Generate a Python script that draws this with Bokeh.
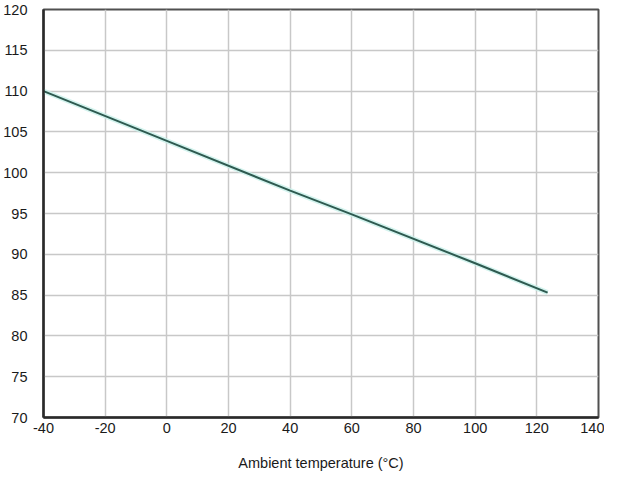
from bokeh.plotting import figure
from bokeh.models import Range1d, FixedTicker
from bokeh.embed import file_html
from bokeh.resources import INLINE

temp_c = [-40, 0, 40, 60, 100, 123.5]
value = [110.0, 103.9, 97.8, 94.9, 88.9, 85.3]
x_ticks = [-40, -20, 0, 20, 40, 60, 80, 100, 120, 140]
y_ticks = [70, 75, 80, 85, 90, 95, 100, 105, 110, 115, 120]

p = figure(width=604, height=474, output_backend="svg", toolbar_location=None,
           x_range=Range1d(-40, 140), y_range=Range1d(70, 120),
           min_border_left=42, min_border_right=6, min_border_top=9, min_border_bottom=57)

p.line(temp_c, value, line_color="#c8f0ea", line_width=5, line_alpha=0.8)
p.line(temp_c, value, line_color="#2e5a50", line_width=2)

for ax in (p.xaxis[0], p.yaxis[0]):
    ax.major_tick_line_color = None
    ax.minor_tick_line_color = None
    ax.major_tick_out = 0
    ax.major_tick_in = 0
    ax.minor_tick_out = 0
    ax.minor_tick_in = 0
    ax.axis_line_color = "#2a2a2a"
    ax.axis_line_width = 2.5
    ax.major_label_text_font = "Liberation Sans"
    ax.major_label_text_font_size = "14.5px"
    ax.major_label_text_color = "#1a1a1a"

p.xaxis.ticker = FixedTicker(ticks=x_ticks)
p.yaxis.ticker = FixedTicker(ticks=y_ticks)
p.xaxis.major_label_overrides = {-40: "-40", -20: "-20"}
p.xaxis.major_label_standoff = 5
p.yaxis.major_label_standoff = 16
p.xaxis.axis_label = "Ambient temperature (°C)"
p.xaxis.axis_label_text_font = "Liberation Sans"
p.xaxis.axis_label_text_font_size = "14.5px"
p.xaxis.axis_label_text_font_style = "normal"
p.xaxis.axis_label_text_color = "#1a1a1a"
p.xaxis.axis_label_standoff = 19

p.grid.grid_line_color = "#c8c8c8"
p.grid.grid_line_width = 1.5
p.outline_line_color = "#505050"
p.outline_line_width = 2
p.background_fill_color = "white"
p.border_fill_color = "white"

open("out.html", "w").write(file_html(p, INLINE))
